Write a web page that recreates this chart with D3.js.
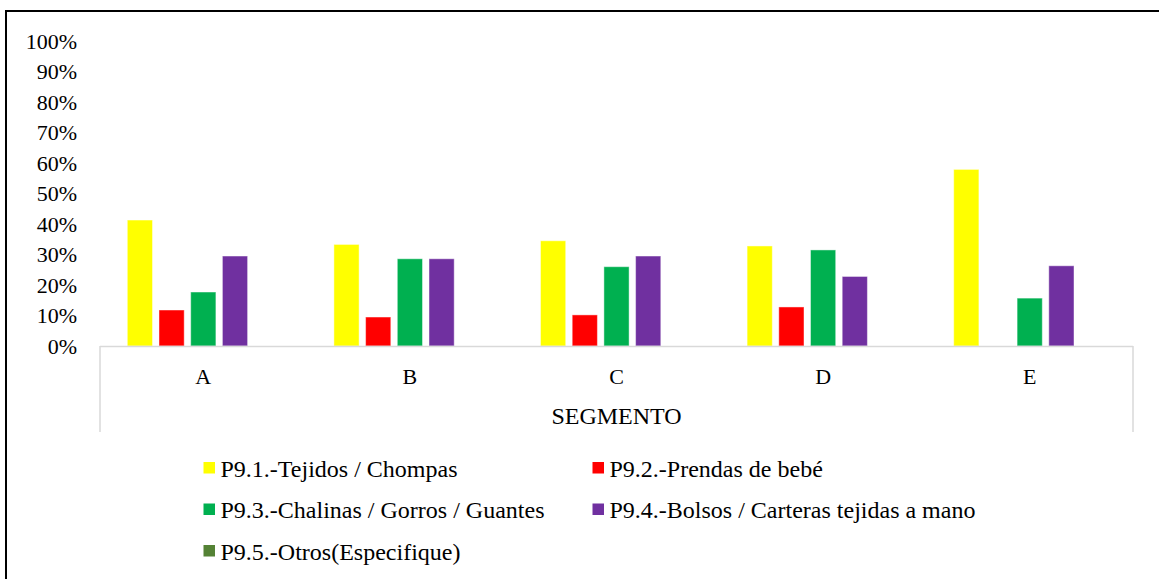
<!DOCTYPE html>
<html>
<head>
<meta charset="utf-8">
<script src="https://cdn.jsdelivr.net/npm/d3@7"></script>
<style>
  html, body { margin: 0; padding: 0; background: #fff; }
  svg { display: block; }
  svg text { font-family: "Liberation Serif", "Times New Roman", Times, serif !important; fill: #000; }
</style>
</head>
<body>
<svg id="chart" width="1159" height="579"></svg>
<script>
// ---- data ----
const categories = ["A", "B", "C", "D", "E"];
const seriesNames = [
  "P9.1.-Tejidos / Chompas",
  "P9.2.-Prendas de bebé",
  "P9.3.-Chalinas / Gorros / Guantes",
  "P9.4.-Bolsos / Carteras tejidas a mano",
  "P9.5.-Otros(Especifique)"
];
const seriesColors = ["#FFFF00", "#FF0000", "#00B050", "#7030A0", "#548235"];
const tejidos  = [0.413, 0.333, 0.345, 0.328, 0.579];
const prendas  = [0.118, 0.095, 0.102, 0.128, 0.0];
const chalinas = [0.177, 0.286, 0.260, 0.315, 0.157];
const bolsos   = [0.295, 0.286, 0.295, 0.228, 0.263];
const otros    = [0.0, 0.0, 0.0, 0.0, 0.0];
const yTicks = [0, 0.1, 0.2, 0.3, 0.4, 0.5, 0.6, 0.7, 0.8, 0.9, 1.0];
const axisTitle = "SEGMENTO";

const seriesValues = [tejidos, prendas, chalinas, bolsos, otros];
const FONT = "'Liberation Serif', 'Times New Roman', Times, serif";

// ---- layout ----
const svg = d3.select("#chart").attr("font-family", FONT);
const plotLeft = 100, plotRight = 1133, baseY = 346, topY = 41;

// outer frame (top and left visible)
svg.append("line").attr("x1", 6).attr("x2", 1159).attr("y1", 11).attr("y2", 11)
  .attr("stroke", "#000").attr("stroke-width", 2);
svg.append("line").attr("x1", 6).attr("x2", 6).attr("y1", 10).attr("y2", 579)
  .attr("stroke", "#000").attr("stroke-width", 2);

const x0 = d3.scaleBand().domain(categories).range([plotLeft, plotRight]).paddingInner(0).paddingOuter(0);
const groupW = 152;
const x1 = d3.scaleBand().domain(d3.range(seriesNames.length))
  .range([(x0.bandwidth() - groupW) / 2, (x0.bandwidth() + groupW) / 2])
  .paddingInner(0.205).paddingOuter(0);
const y = d3.scaleLinear().domain([0, 1]).range([baseY, topY]);

// bars
const groups = svg.append("g").selectAll("g")
  .data(categories)
  .join("g")
  .attr("transform", d => `translate(${x0(d)},0)`);

groups.selectAll("rect")
  .data((c, ci) => seriesValues.map((vals, si) => ({ si, v: vals[ci] })))
  .join("rect")
  .filter(d => d.v > 0)
  .attr("x", d => x1(d.si))
  .attr("width", x1.bandwidth())
  .attr("y", d => y(d.v))
  .attr("height", d => y(0) - y(d.v))
  .attr("fill", d => seriesColors[d.si])
  .attr("stroke", "#fff").attr("stroke-opacity", 0.45).attr("stroke-width", 1);

// y axis (labels only)
const yAxis = svg.append("g").attr("transform", `translate(${plotLeft},0)`)
  .call(d3.axisLeft(y).tickValues(yTicks).tickFormat(d3.format(".0%")).tickSize(0).tickPadding(23));
yAxis.attr("font-family", FONT).attr("font-size", 22);
yAxis.select(".domain").remove();
yAxis.selectAll("text").style("font-family", FONT).style("font-size", "22px");

// x axis box
const axisColor = "#d9d9d9";
svg.append("line").attr("x1", plotLeft).attr("x2", plotRight).attr("y1", baseY + 0.5).attr("y2", baseY + 0.5)
  .attr("stroke", axisColor).attr("stroke-width", 1.5);
[plotLeft, plotRight].forEach(xx => {
  svg.append("line").attr("x1", xx).attr("x2", xx).attr("y1", baseY).attr("y2", 432)
    .attr("stroke", axisColor).attr("stroke-width", 1.5);
});

const xAxis = svg.append("g").attr("transform", `translate(0,${baseY + 0.5})`)
  .call(d3.axisBottom(x0).tickSize(0));
xAxis.attr("font-family", FONT).attr("font-size", 22);
xAxis.select(".domain").remove();
xAxis.selectAll("text").attr("y", 37).attr("dy", 0).style("font-family", FONT).style("font-size", "22px");

svg.append("text").attr("x", (plotLeft + plotRight) / 2).attr("y", 424)
  .attr("text-anchor", "middle").style("font-family", FONT).style("font-size", "24px").text(axisTitle);

// legend
const legendPos = [
  { x: 203.5, y: 462 }, { x: 592.5, y: 462 },
  { x: 203.5, y: 503.5 }, { x: 592.5, y: 503.5 },
  { x: 203.5, y: 545 }
];
const legend = svg.append("g").selectAll("g").data(seriesNames).join("g")
  .attr("transform", (d, i) => `translate(${legendPos[i].x},${legendPos[i].y})`);
legend.append("rect").attr("width", 11.5).attr("height", 11.5)
  .attr("fill", (d, i) => seriesColors[i]);
legend.append("text").attr("x", 17).attr("y", 14.5)
  .style("font-family", FONT).style("font-size", "24px").text(d => d);
</script>
</body>
</html>
